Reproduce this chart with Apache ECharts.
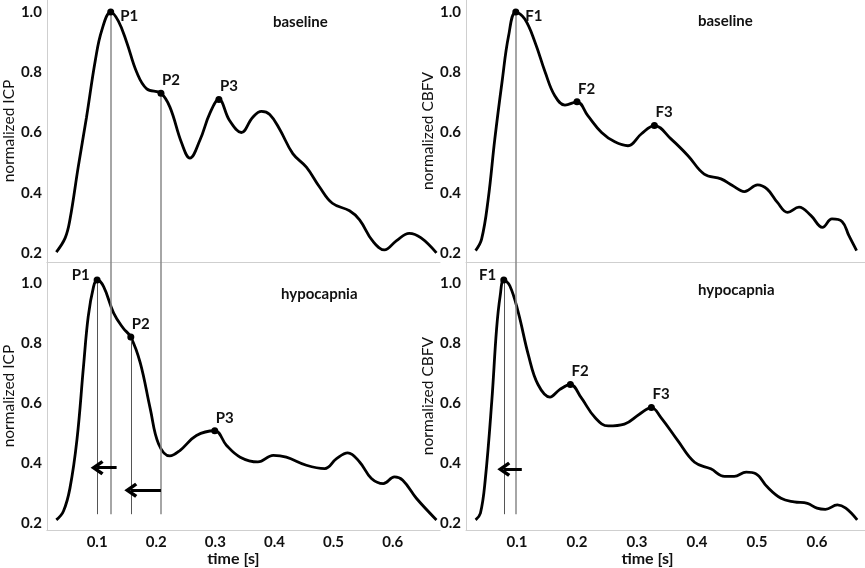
<!DOCTYPE html>
<html>
<head>
<meta charset="utf-8">
<script src="https://cdn.jsdelivr.net/npm/echarts@6/dist/echarts.min.js"></script>
<style>
  html, body { margin: 0; padding: 0; background: #fff; }
  #chart { width: 865px; height: 568px; }
</style>
</head>
<body>
<div id="chart"></div>
<script>
// pulse waveforms, [time s, normalized value]
const icpBaseline = [
  [0.031, 0.203], [0.046, 0.25], [0.054, 0.31], [0.068, 0.485], [0.082, 0.65], [0.097, 0.84],
  [0.108, 0.94], [0.123, 1.0], [0.136, 0.97], [0.150, 0.90], [0.167, 0.80], [0.184, 0.745],
  [0.208, 0.73], [0.223, 0.685], [0.243, 0.565], [0.257, 0.515], [0.274, 0.575], [0.291, 0.665],
  [0.306, 0.71], [0.324, 0.64], [0.344, 0.60], [0.363, 0.65], [0.378, 0.67], [0.392, 0.66],
  [0.409, 0.61], [0.431, 0.53], [0.454, 0.485], [0.476, 0.42], [0.498, 0.365], [0.527, 0.34],
  [0.544, 0.31], [0.566, 0.24], [0.586, 0.21], [0.606, 0.24], [0.628, 0.265], [0.648, 0.25],
  [0.674, 0.20]
]
const icpHypo = [
  [0.031, 0.211], [0.043, 0.24], [0.054, 0.316], [0.066, 0.48], [0.077, 0.723], [0.085, 0.889],
  [0.094, 0.988], [0.100, 1.01], [0.111, 0.988], [0.128, 0.90], [0.144, 0.85], [0.157, 0.82],
  [0.173, 0.734], [0.190, 0.58], [0.204, 0.464], [0.223, 0.424], [0.240, 0.442], [0.268, 0.492],
  [0.299, 0.508], [0.319, 0.459], [0.342, 0.42], [0.372, 0.404], [0.398, 0.426], [0.420, 0.42],
  [0.454, 0.393], [0.485, 0.382], [0.505, 0.415], [0.524, 0.434], [0.544, 0.404], [0.564, 0.349],
  [0.584, 0.332], [0.603, 0.354], [0.617, 0.343], [0.640, 0.283], [0.674, 0.211]
]
const cbfvBaseline = [
  [0.031, 0.208], [0.041, 0.246], [0.052, 0.379], [0.063, 0.578], [0.075, 0.767], [0.086, 0.921],
  [0.098, 1.0], [0.113, 0.977], [0.130, 0.90], [0.147, 0.80], [0.163, 0.722], [0.180, 0.691],
  [0.200, 0.702], [0.218, 0.656], [0.241, 0.60], [0.263, 0.569], [0.285, 0.556], [0.307, 0.595],
  [0.329, 0.623], [0.357, 0.578], [0.385, 0.523], [0.412, 0.462], [0.440, 0.446], [0.459, 0.424],
  [0.479, 0.404], [0.501, 0.426], [0.517, 0.412], [0.534, 0.368], [0.551, 0.335], [0.570, 0.352],
  [0.590, 0.324], [0.609, 0.285], [0.625, 0.313], [0.642, 0.304], [0.653, 0.258], [0.666, 0.208]
]
const cbfvHypo = [
  [0.031, 0.211], [0.039, 0.233], [0.047, 0.343], [0.058, 0.607], [0.066, 0.848], [0.072, 0.958],
  [0.078, 1.01], [0.088, 0.991], [0.102, 0.903], [0.119, 0.76], [0.135, 0.662], [0.155, 0.62],
  [0.171, 0.645], [0.189, 0.662], [0.207, 0.618], [0.230, 0.552], [0.252, 0.524], [0.279, 0.53],
  [0.304, 0.563], [0.324, 0.585], [0.340, 0.552], [0.368, 0.475], [0.396, 0.403], [0.423, 0.381],
  [0.446, 0.356], [0.462, 0.356], [0.482, 0.37], [0.498, 0.365], [0.517, 0.321], [0.540, 0.283],
  [0.562, 0.271], [0.584, 0.266], [0.600, 0.25], [0.614, 0.246], [0.634, 0.261], [0.648, 0.25],
  [0.667, 0.211]
]

// marked peaks [time, value, name]
const icpBasePeaks = [[0.123, 1.0, 'P1'], [0.208, 0.73, 'P2'], [0.306, 0.71, 'P3']]
const icpHypoPeaks = [[0.100, 1.01, 'P1'], [0.157, 0.82, 'P2'], [0.299, 0.508, 'P3']]
const cbfvBasePeaks = [[0.098, 1.0, 'F1'], [0.200, 0.702, 'F2'], [0.329, 0.623, 'F3']]
const cbfvHypoPeaks = [[0.078, 1.01, 'F1'], [0.189, 0.662, 'F2'], [0.324, 0.585, 'F3']]

const timeTicks = [0.1, 0.2, 0.3, 0.4, 0.5, 0.6]
const valueTicks = [0.2, 0.4, 0.6, 0.8, 1.0]
const panelTitles = ['baseline', 'baseline', 'hypocapnia', 'hypocapnia']

const FONT = 'Lato'
const X_MIN = 0.015, X_MAX = 0.68
const TOP_MIN = 0.17, TOP_MAX = 1.04
const BOT_MIN = 0.177, BOT_MAX = 1.07
const LINE_END = 0.23   // where the guide lines stop in the lower panels
const arrowPath = 'path://M5,0 L10,7.5 L8.3,9 L5,4.2 L1.7,9 L0,7.5 Z'

let myChart = echarts.init(document.getElementById('chart'))

function xAxisFor(idx, bottom) {
  return {
    type: 'value', gridIndex: idx, min: X_MIN, max: X_MAX,
    axisLine: { show: true, onZero: false, lineStyle: { color: '#cfcfcf', width: 1 } },
    axisTick: { show: false },
    splitLine: { show: false },
    axisLabel: bottom ? {
      show: true, customValues: timeTicks, margin: 5,
      color: '#111', fontFamily: FONT, fontWeight: 'bold', fontSize: 15,
      formatter: v => v.toFixed(1)
    } : { show: false },
    name: bottom ? 'time [s]' : '',
    nameLocation: 'middle', nameGap: 17,
    nameTextStyle: { color: '#111', fontFamily: FONT, fontSize: 16, fontWeight: 'bold',
      padding: [0, idx === 2 ? 20 : 36, 0, 0] }
  }
}

function yAxisFor(idx, min, max, name) {
  return {
    type: 'value', gridIndex: idx, min: min, max: max,
    axisLine: { show: true, lineStyle: { color: '#cfcfcf', width: 1 } },
    axisTick: { show: false },
    splitLine: { show: false },
    axisLabel: {
      customValues: valueTicks, margin: 5,
      color: '#111', fontFamily: FONT, fontWeight: 'bold', fontSize: 15,
      formatter: v => v.toFixed(1)
    },
    name: name, nameLocation: 'middle', nameGap: 28,
    nameTextStyle: { color: '#111', fontFamily: FONT, fontSize: 15.5 }
  }
}

// vertical guide line from a peak down to a given level
function guide(t, from, to, color, width) {
  return [
    { coord: [t, from], symbol: 'none', lineStyle: { color: color, width: width, type: 'solid' } },
    { coord: [t, to], symbol: 'none' }
  ]
}

function arrow(t0, t1, level) {
  return [
    { coord: [t0, level], symbol: 'none', lineStyle: { color: '#000', width: 3, type: 'solid' } },
    { coord: [t1, level], symbol: arrowPath, symbolSize: [15, 13] }
  ]
}

function curve(idx, data, lines) {
  return {
    type: 'line', xAxisIndex: idx, yAxisIndex: idx,
    data: data, smooth: 0.4, showSymbol: false, silent: true,
    lineStyle: { color: '#000', width: 2.8 },
    markLine: { silent: true, animation: false, label: { show: false }, data: lines }
  }
}

// label placement per peak: 'r' right, 'tr' top right, 'l' left
function peaks(idx, list, places) {
  return {
    type: 'scatter', xAxisIndex: idx, yAxisIndex: idx, silent: true,
    symbolSize: 7, itemStyle: { color: '#000', opacity: 1 }, z: 5,
    data: list.map((p, i) => {
      let pl = places[i]
      let label = {
        show: true, formatter: p[2],
        color: '#111', fontFamily: FONT, fontSize: 15, fontWeight: 'bold'
      }
      if (pl === 'r') { label.position = 'right'; label.distance = 6; label.offset = [0, 4] }
      if (pl === 'l') { label.position = 'left'; label.distance = 4; label.offset = [0, -5] }
      if (pl === 'tr') { label.position = 'top'; label.align = 'left'; label.distance = 2; label.offset = [1, 0] }
      return { value: [p[0], p[1]], label: label }
    })
  }
}

let option = {
  animation: false,
  backgroundColor: '#fff',
  title: [
    { text: panelTitles[0], left: 268, top: 10 },
    { text: panelTitles[1], left: 693, top: 9 },
    { text: panelTitles[2], left: 276, top: 282 },
    { text: panelTitles[3], left: 693, top: 278 }
  ].map(t => Object.assign(t, {
    textStyle: { color: '#111', fontFamily: FONT, fontSize: 15, fontWeight: 'bold' }
  })),
  grid: [
    { left: 46, top: 0, width: 394, height: 262 },
    { left: 466, top: 0, width: 399, height: 262 },
    { left: 46, top: 262, width: 394, height: 270 },
    { left: 466, top: 262, width: 399, height: 270 }
  ],
  xAxis: [xAxisFor(0, false), xAxisFor(1, false), xAxisFor(2, true), xAxisFor(3, true)],
  yAxis: [
    yAxisFor(0, TOP_MIN, TOP_MAX, 'normalized ICP'),
    yAxisFor(1, TOP_MIN, TOP_MAX, 'normalized CBFV'),
    yAxisFor(2, BOT_MIN, BOT_MAX, 'normalized ICP'),
    yAxisFor(3, BOT_MIN, BOT_MAX, 'normalized CBFV')
  ],
  series: [
    curve(0, icpBaseline, [
      guide(icpBasePeaks[0][0], icpBasePeaks[0][1], TOP_MIN, '#888', 1.5),
      guide(icpBasePeaks[1][0], icpBasePeaks[1][1], TOP_MIN, '#888', 1.5)
    ]),
    curve(1, cbfvBaseline, [
      guide(cbfvBasePeaks[0][0], cbfvBasePeaks[0][1], TOP_MIN, '#888', 1.5)
    ]),
    curve(2, icpHypo, [
      guide(icpBasePeaks[0][0], BOT_MAX, LINE_END, '#888', 1.5),
      guide(icpBasePeaks[1][0], BOT_MAX, LINE_END, '#888', 1.5),
      guide(icpHypoPeaks[0][0], icpHypoPeaks[0][1], LINE_END, '#555', 1),
      guide(icpHypoPeaks[1][0], icpHypoPeaks[1][1], LINE_END, '#555', 1),
      arrow(icpBasePeaks[0][0] + 0.01, icpHypoPeaks[0][0], 0.385),
      arrow(icpBasePeaks[1][0], icpHypoPeaks[1][0], 0.31)
    ]),
    curve(3, cbfvHypo, [
      guide(cbfvBasePeaks[0][0], BOT_MAX, LINE_END, '#888', 1.5),
      guide(cbfvHypoPeaks[0][0], cbfvHypoPeaks[0][1], LINE_END, '#555', 1),
      arrow(cbfvBasePeaks[0][0] + 0.01, cbfvHypoPeaks[0][0], 0.38)
    ]),
    peaks(0, icpBasePeaks, ['r', 'tr', 'tr']),
    peaks(1, cbfvBasePeaks, ['r', 'tr', 'tr']),
    peaks(2, icpHypoPeaks, ['l', 'tr', 'tr']),
    peaks(3, cbfvHypoPeaks, ['l', 'tr', 'tr'])
  ]
}
myChart.setOption(option)
window.addEventListener('resize', function() {
  myChart.resize()
})
</script>
</body>
</html>
